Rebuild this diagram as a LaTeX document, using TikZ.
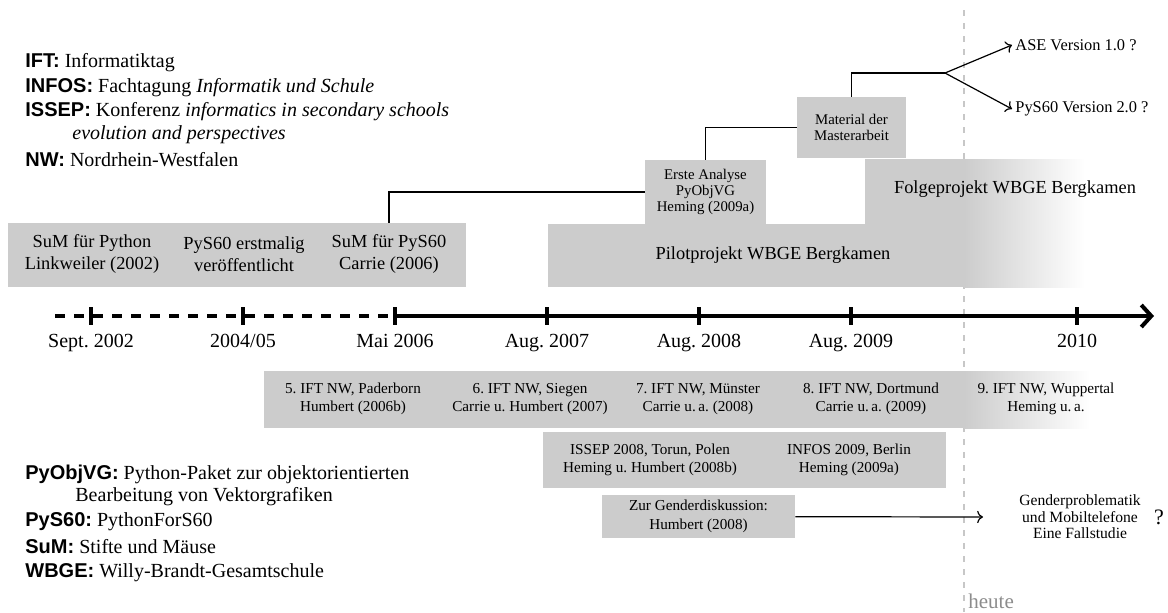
\documentclass[tikz,border=0pt]{standalone}
\usepackage{fontspec}
\setmainfont{Liberation Serif}
\setsansfont{Liberation Sans}
\usetikzlibrary{arrows.meta}
\newcommand{\abk}[1]{{\sffamily\bfseries #1:}}
\definecolor{boxgray}{gray}{0.8}
\definecolor{heutegray}{gray}{0.78}

\begin{document}
\frenchspacing
\begin{tikzpicture}[x=0.5pt,y=-0.5pt,
    box/.style={fill=boxgray,inner sep=0pt},
    boxtext/.style={font=\fontsize{9.2}{11}\selectfont,align=center},
    eventtext/.style={font=\fontsize{7.6}{9.3}\selectfont,align=center},
    tinytext/.style={font=\fontsize{7.4}{7.8}\selectfont,align=center},
    legend/.style={anchor=west,inner sep=0pt,font=\fontsize{10}{12}\selectfont},
    ticklabel/.style={font=\fontsize{10}{12}\selectfont,text height=1.6ex,text depth=.3ex}]
  \useasboundingbox (0,0) rectangle (1168,612);

  % heute
  \draw[heutegray,line width=1pt,dash pattern=on 3pt off 3.5pt] (964,10) -- (964,612);
  \node[anchor=west,inner sep=1pt,text=black!45,font=\fontsize{10.5}{12}\selectfont]
    (heute) at (966,601) {heute};

  % Abkuerzungen oben
  \node[legend] (lift)   at (25,63)  {\abk{IFT}\ Informatiktag};
  \node[legend] (linfos) at (25,88)  {\abk{INFOS}\ Fachtagung \emph{Informatik und Schule}};
  \node[legend] (lissep) at (25,112) {\abk{ISSEP}\ Konferenz \emph{informatics in secondary schools}};
  \node[legend] (lissepb) at (72,135) {\emph{evolution and perspectives}};
  \node[legend] (lnw)    at (25,160) {\abk{NW}\ Nordrhein-Westfalen};

  % Abkuerzungen unten
  \node[legend] (lpyobj)  at (25,474) {\abk{PyObjVG}\ Python-Paket zur objektorientierten};
  \node[legend] (lpyobjb) at (75,497) {Bearbeitung von Vektorgrafiken};
  \node[legend] (lpys)    at (25,522) {\abk{PyS60}\ PythonForS60};
  \node[legend] (lsum)    at (25,547) {\abk{SuM}\ Stifte und M\"ause};
  \node[legend] (lwbge)   at (25,573) {\abk{WBGE}\ Willy-Brandt-Gesamtschule};

  % vor 2006
  \node[box,minimum width=229pt,minimum height=32pt] (topbox) at (237,255) {};
  \node[boxtext] (sumpy)    at (92,254)  {SuM f\"ur Python\\Linkweiler (2002)};
  \node[boxtext] (pysfirst) at (244,254) {PyS60 erstmalig\\ver\"offentlicht};
  \node[boxtext] (sumpys)   at (389,254) {SuM f\"ur PyS60\\Carrie (2006)};

  % Projekte
  \fill[boxgray] (548,224) rectangle (964,287);
  \shade[left color=boxgray,right color=white] (964,224) rectangle (1085,287);
  \fill[boxgray] (865,159) rectangle (964,224);
  \shade[left color=boxgray,right color=white] (964,159) rectangle (1085,224);
  \node[boxtext] (pilot) at (773,255) {Pilotprojekt WBGE Bergkamen};
  \node[boxtext] (folge) at (1015,189) {Folgeprojekt WBGE Bergkamen};

  \node[box,tinytext,minimum width=60.5pt,minimum height=32pt] (ana) at (705.5,192)
    {Erste Analyse\\PyObjVG\\Heming (2009a)};
  \node[box,tinytext,minimum width=54.5pt,minimum height=30.5pt] (mat) at (851.5,127.5)
    {Material der\\Masterarbeit};
  \coordinate (branch) at (945,73);
  \node[anchor=west,inner sep=1.5pt,font=\fontsize{8.2}{9}\selectfont] (ase) at (1012,45) {ASE Version 1.0 ?};
  \node[anchor=west,inner sep=1.5pt,font=\fontsize{8.2}{9}\selectfont] (pysver) at (1012,109) {PyS60 Version 2.0 ?};

  \draw[line width=0.6pt] (topbox.north -| sumpys) |- (ana.west);
  \draw[line width=0.6pt] (mat.west) -| (ana.north);
  \draw[line width=0.6pt] (mat.north) |- (branch);
  \draw[line width=0.6pt,->] (branch) -- (ase.west);
  \draw[line width=0.6pt,->] (branch) -- (pysver.west);

  % Zeitstrahl
  \draw[line width=2pt,dash pattern=on 5pt off 4.5pt] (55,316) -- (395,316);
  \draw[line width=2pt,-{Straight Barb[length=5pt,width=11pt]}] (395,316) -- (1154,316);
  \foreach \x/\t [count=\i] in {91/Sept. 2002,243/{2004/05},395/Mai 2006,547/Aug. 2007,
      699/Aug. 2008,851/Aug. 2009,1077/2010} {
    \draw[line width=2pt] (\x,307) -- (\x,325);
    \node[ticklabel] (d\i) at (\x,342) {\t};
  }

  % Tagungen
  \fill[boxgray] (264,371) rectangle (964,428);
  \shade[left color=boxgray,right color=white] (964,371) rectangle (1090,428);
  \node[eventtext] (ift5) at (353,399)  {5. IFT NW, Paderborn\\Humbert (2006b)};
  \node[eventtext] (ift6) at (530,399)  {6. IFT NW, Siegen\\Carrie u. Humbert (2007)};
  \node[eventtext] (ift7) at (698,399)  {7. IFT NW, M\"unster\\Carrie u.\,a. (2008)};
  \node[eventtext] (ift8) at (871,399)  {8. IFT NW, Dortmund\\Carrie u.\,a. (2009)};
  \node[eventtext] (ift9) at (1046,399) {9. IFT NW, Wuppertal\\Heming u.\,a.};

  \node[box,minimum width=201.5pt,minimum height=28pt] (confbox) at (744.5,460) {};
  \node[eventtext] (issep) at (650,460) {ISSEP 2008, Torun, Polen\\Heming u. Humbert (2008b)};
  \node[eventtext] (infos) at (849,460) {INFOS 2009, Berlin\\Heming (2009a)};

  \node[box,eventtext,minimum width=96.5pt,minimum height=21.5pt] (gender) at (698.5,516.5)
    {Zur Genderdiskussion:\\Humbert (2008)};
  \coordinate (gendend) at (983,517);
  \draw[line width=0.6pt,->] (gender) -- (gendend);
  \node[font=\fontsize{7.8}{8.2}\selectfont,align=center] (gtext) at (1080,517)
    {Genderproblematik\\und Mobiltelefone\\Eine Fallstudie};
  \node[font=\fontsize{11}{13}\selectfont] (frage) at (1159,517) {?};
\end{tikzpicture}
\end{document}
